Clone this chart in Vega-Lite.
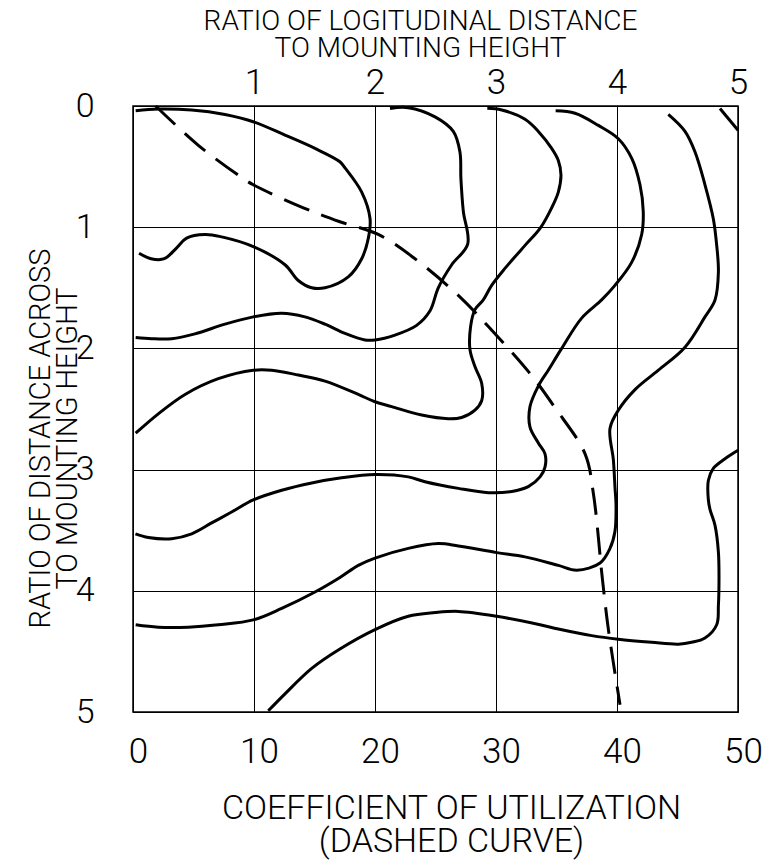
{
  "$schema": "https://vega.github.io/schema/vega-lite/v6.json",
  "width": 605,
  "height": 606,
  "autosize": "none",
  "padding": {"left": 133, "top": 106, "right": 45, "bottom": 149},
  "background": "white",
  "config": {
    "font": "Roboto",
    "view": {"stroke": "black", "strokeWidth": 1.5},
    "axis": {
      "labelFont": "Roboto", "titleFont": "Roboto",
      "labelFontWeight": 300, "titleFontWeight": 300,
      "labelColor": "black", "titleColor": "black",
      "ticks": false, "tickSize": 0, "domain": false,
      "gridColor": "black", "gridWidth": 1, "gridOpacity": 1,
      "labelFlush": false, "labelOverlap": false
    }
  },
  "data": {"values": [
    {"c":"A","i":0,"x":0.22,"y":0.04},{"c":"A","i":1,"x":2.09,"y":0.025},{"c":"A","i":2,"x":4.85,"y":0.033},{"c":"A","i":3,"x":7.6,"y":0.07},{"c":"A","i":4,"x":9.94,"y":0.13},{"c":"A","i":5,"x":12.56,"y":0.24},{"c":"A","i":6,"x":15.04,"y":0.35},{"c":"A","i":7,"x":17.1,"y":0.46},{"c":"A","i":8,"x":17.52,"y":0.51},{"c":"A","i":9,"x":18.9,"y":0.71},{"c":"A","i":10,"x":19.59,"y":0.93},{"c":"A","i":11,"x":19.45,"y":1.09},{"c":"A","i":12,"x":18.9,"y":1.26},{"c":"A","i":13,"x":17.79,"y":1.41},{"c":"A","i":14,"x":15.87,"y":1.5},{"c":"A","i":15,"x":14.77,"y":1.5},{"c":"A","i":16,"x":13.66,"y":1.44},{"c":"A","i":17,"x":12.56,"y":1.31},{"c":"A","i":18,"x":9.94,"y":1.16},{"c":"A","i":19,"x":7.33,"y":1.08},{"c":"A","i":20,"x":5.95,"y":1.06},{"c":"A","i":21,"x":4.43,"y":1.09},{"c":"A","i":22,"x":3.61,"y":1.17},{"c":"A","i":23,"x":2.59,"y":1.26},{"c":"A","i":24,"x":1.49,"y":1.26},{"c":"A","i":25,"x":0.5,"y":1.215},

    {"c":"C","i":0,"x":0.22,"y":1.91},{"c":"C","i":1,"x":1.54,"y":1.92},{"c":"C","i":2,"x":3.2,"y":1.92},{"c":"C","i":3,"x":5.12,"y":1.88},{"c":"C","i":4,"x":7.6,"y":1.8},{"c":"C","i":5,"x":9.94,"y":1.74},{"c":"C","i":6,"x":12.29,"y":1.71},{"c":"C","i":7,"x":14.21,"y":1.74},{"c":"C","i":8,"x":15.87,"y":1.8},{"c":"C","i":9,"x":17.52,"y":1.876},{"c":"C","i":10,"x":19.17,"y":1.93},{"c":"C","i":11,"x":20,"y":1.93},{"c":"C","i":12,"x":21.65,"y":1.89},{"c":"C","i":13,"x":23.44,"y":1.81},{"c":"C","i":14,"x":24.55,"y":1.69},{"c":"C","i":15,"x":25.23,"y":1.5},{"c":"C","i":16,"x":26.34,"y":1.31},{"c":"C","i":17,"x":27.66,"y":1.14},{"c":"C","i":18,"x":27.3,"y":0.87},{"c":"C","i":19,"x":27.1,"y":0.6},{"c":"C","i":20,"x":27.02,"y":0.38},{"c":"C","i":21,"x":26.47,"y":0.21},{"c":"C","i":22,"x":24.96,"y":0.09},{"c":"C","i":23,"x":22.75,"y":0.014},{"c":"C","i":24,"x":21.24,"y":0.02},

    {"c":"D","i":0,"x":0.22,"y":2.7},{"c":"D","i":1,"x":2.09,"y":2.54},{"c":"D","i":2,"x":4.3,"y":2.38},{"c":"D","i":3,"x":7.05,"y":2.25},{"c":"D","i":4,"x":9.94,"y":2.18},{"c":"D","i":5,"x":11.46,"y":2.18},{"c":"D","i":6,"x":13.66,"y":2.22},{"c":"D","i":7,"x":15.87,"y":2.27},{"c":"D","i":8,"x":18.62,"y":2.38},{"c":"D","i":9,"x":20,"y":2.44},{"c":"D","i":10,"x":21.38,"y":2.48},{"c":"D","i":11,"x":23.86,"y":2.55},{"c":"D","i":12,"x":26.06,"y":2.58},{"c":"D","i":13,"x":27.16,"y":2.57},{"c":"D","i":14,"x":28.26,"y":2.51},{"c":"D","i":15,"x":28.82,"y":2.43},{"c":"D","i":16,"x":28.82,"y":2.29},{"c":"D","i":17,"x":28.26,"y":2.15},{"c":"D","i":18,"x":27.85,"y":2.01},{"c":"D","i":19,"x":27.9,"y":1.82},{"c":"D","i":20,"x":28.26,"y":1.68},{"c":"D","i":21,"x":28.95,"y":1.6},{"c":"D","i":22,"x":29.64,"y":1.48},{"c":"D","i":23,"x":30.74,"y":1.34},{"c":"D","i":24,"x":32.4,"y":1.15},{"c":"D","i":25,"x":33.64,"y":1.01},{"c":"D","i":26,"x":34.6,"y":0.84},{"c":"D","i":27,"x":35.15,"y":0.71},{"c":"D","i":28,"x":35.37,"y":0.57},{"c":"D","i":29,"x":35.15,"y":0.45},{"c":"D","i":30,"x":34.6,"y":0.35},{"c":"D","i":31,"x":33.5,"y":0.21},{"c":"D","i":32,"x":32.4,"y":0.11},{"c":"D","i":33,"x":30.47,"y":0.033},{"c":"D","i":34,"x":29.28,"y":0.019},

    {"c":"E","i":0,"x":0.2,"y":3.53},{"c":"E","i":1,"x":1.27,"y":3.56},{"c":"E","i":2,"x":3.2,"y":3.57},{"c":"E","i":3,"x":4.85,"y":3.53},{"c":"E","i":4,"x":6.5,"y":3.44},{"c":"E","i":5,"x":8.15,"y":3.35},{"c":"E","i":6,"x":9.94,"y":3.25},{"c":"E","i":7,"x":12.29,"y":3.17},{"c":"E","i":8,"x":14.77,"y":3.11},{"c":"E","i":9,"x":17.1,"y":3.07},{"c":"E","i":10,"x":20,"y":3.04},{"c":"E","i":11,"x":22.75,"y":3.06},{"c":"E","i":12,"x":24.13,"y":3.1},{"c":"E","i":13,"x":26.89,"y":3.155},{"c":"E","i":14,"x":29.37,"y":3.19},{"c":"E","i":15,"x":31.3,"y":3.18},{"c":"E","i":16,"x":32.67,"y":3.14},{"c":"E","i":17,"x":33.64,"y":3.06},{"c":"E","i":18,"x":34.05,"y":2.98},{"c":"E","i":19,"x":34.05,"y":2.87},{"c":"E","i":20,"x":33.5,"y":2.78},{"c":"E","i":21,"x":32.81,"y":2.65},{"c":"E","i":22,"x":32.81,"y":2.48},{"c":"E","i":23,"x":33.5,"y":2.31},{"c":"E","i":24,"x":34.32,"y":2.18},{"c":"E","i":25,"x":35.43,"y":2.0},{"c":"E","i":26,"x":37.08,"y":1.75},{"c":"E","i":27,"x":38.73,"y":1.6},{"c":"E","i":28,"x":39.83,"y":1.48},{"c":"E","i":29,"x":41.21,"y":1.29},{"c":"E","i":30,"x":42.04,"y":1.06},{"c":"E","i":31,"x":42.17,"y":0.87},{"c":"E","i":32,"x":41.9,"y":0.65},{"c":"E","i":33,"x":41.21,"y":0.43},{"c":"E","i":34,"x":40.11,"y":0.27},{"c":"E","i":35,"x":38.46,"y":0.16},{"c":"E","i":36,"x":36.53,"y":0.06},{"c":"E","i":37,"x":34.93,"y":0.04},

    {"c":"F","i":0,"x":0.22,"y":4.28},{"c":"F","i":1,"x":2.09,"y":4.3},{"c":"F","i":2,"x":4.57,"y":4.3},{"c":"F","i":3,"x":7.05,"y":4.28},{"c":"F","i":4,"x":9.94,"y":4.24},{"c":"F","i":5,"x":12.29,"y":4.145},{"c":"F","i":6,"x":15.04,"y":4.01},{"c":"F","i":7,"x":17.1,"y":3.89},{"c":"F","i":8,"x":18.62,"y":3.79},{"c":"F","i":9,"x":20,"y":3.73},{"c":"F","i":10,"x":22.75,"y":3.65},{"c":"F","i":11,"x":25.23,"y":3.61},{"c":"F","i":12,"x":26.89,"y":3.63},{"c":"F","i":13,"x":30.06,"y":3.685},{"c":"F","i":14,"x":32.4,"y":3.72},{"c":"F","i":15,"x":35.15,"y":3.79},{"c":"F","i":16,"x":36.67,"y":3.83},{"c":"F","i":17,"x":38.6,"y":3.77},{"c":"F","i":18,"x":39.42,"y":3.65},{"c":"F","i":19,"x":39.83,"y":3.51},{"c":"F","i":20,"x":39.92,"y":3.3},{"c":"F","i":21,"x":39.83,"y":3.14},{"c":"F","i":22,"x":39.7,"y":2.92},{"c":"F","i":23,"x":39.42,"y":2.66},{"c":"F","i":24,"x":40.11,"y":2.51},{"c":"F","i":25,"x":41.49,"y":2.34},{"c":"F","i":26,"x":43.42,"y":2.18},{"c":"F","i":27,"x":45.62,"y":1.99},{"c":"F","i":28,"x":47.27,"y":1.74},{"c":"F","i":29,"x":48.1,"y":1.6},{"c":"F","i":30,"x":48.38,"y":1.37},{"c":"F","i":31,"x":48.24,"y":1.15},{"c":"F","i":32,"x":47.96,"y":0.93},{"c":"F","i":33,"x":47.27,"y":0.65},{"c":"F","i":34,"x":46.45,"y":0.38},{"c":"F","i":35,"x":45.62,"y":0.21},{"c":"F","i":36,"x":44.24,"y":0.07},

    {"c":"G","i":0,"x":48.51,"y":0.02},{"c":"G","i":1,"x":50,"y":0.2},

    {"c":"H","i":0,"x":11.18,"y":4.99},{"c":"H","i":1,"x":12.56,"y":4.85},{"c":"H","i":2,"x":14.77,"y":4.64},{"c":"H","i":3,"x":17.1,"y":4.48},{"c":"H","i":4,"x":20,"y":4.32},{"c":"H","i":5,"x":22.75,"y":4.21},{"c":"H","i":6,"x":24.96,"y":4.18},{"c":"H","i":7,"x":26.89,"y":4.17},{"c":"H","i":8,"x":30.06,"y":4.21},{"c":"H","i":9,"x":33.64,"y":4.28},{"c":"H","i":10,"x":35.15,"y":4.315},{"c":"H","i":11,"x":37.91,"y":4.37},{"c":"H","i":12,"x":40.11,"y":4.4},{"c":"H","i":13,"x":42.87,"y":4.425},{"c":"H","i":14,"x":45.07,"y":4.44},{"c":"H","i":15,"x":46.17,"y":4.425},{"c":"H","i":16,"x":47.27,"y":4.39},{"c":"H","i":17,"x":48.24,"y":4.28},{"c":"H","i":18,"x":48.38,"y":4.12},{"c":"H","i":19,"x":48.43,"y":3.9},{"c":"H","i":20,"x":48.38,"y":3.68},{"c":"H","i":21,"x":48.1,"y":3.46},{"c":"H","i":22,"x":47.69,"y":3.33},{"c":"H","i":23,"x":47.55,"y":3.25},{"c":"H","i":24,"x":47.55,"y":3.09},{"c":"H","i":25,"x":47.96,"y":2.99},{"c":"H","i":26,"x":48.93,"y":2.91},{"c":"H","i":27,"x":50,"y":2.84},

    {"c":"dash","i":0,"x":1.87,"y":0.0},{"c":"dash","i":1,"x":5.35,"y":0.32},{"c":"dash","i":2,"x":8.84,"y":0.58},{"c":"dash","i":3,"x":9.94,"y":0.65},{"c":"dash","i":4,"x":14.08,"y":0.84},{"c":"dash","i":5,"x":17.1,"y":0.955},{"c":"dash","i":6,"x":20.27,"y":1.06},{"c":"dash","i":7,"x":23.17,"y":1.25},{"c":"dash","i":8,"x":26.97,"y":1.57},{"c":"dash","i":9,"x":29.37,"y":1.82},{"c":"dash","i":10,"x":32.75,"y":2.2},{"c":"dash","i":11,"x":34.88,"y":2.49},{"c":"dash","i":12,"x":37.36,"y":2.87},{"c":"dash","i":13,"x":38.05,"y":3.2},{"c":"dash","i":14,"x":38.79,"y":3.9},{"c":"dash","i":15,"x":39.29,"y":4.32},{"c":"dash","i":16,"x":40.25,"y":4.94}
  ]},
  "layer": [
    {
      "transform": [{"filter": "datum.c != 'dash'"}],
      "mark": {"type": "line", "interpolate": "catmull-rom", "color": "black", "strokeWidth": 3},
      "encoding": {
        "x": {"field": "x", "type": "quantitative",
          "scale": {"domain": [0, 50], "nice": false, "zero": false},
          "axis": {"orient": "bottom", "values": [0, 10, 20, 30, 40, 50], "grid": true, "format": "d",
            "labelFontSize": 35, "labelBaseline": "alphabetic", "labelPadding": 50, "labelOffset": 5,
            "title": ["COEFFICIENT OF UTILIZATION", "(DASHED CURVE)"],
            "titleFontSize": 34, "titleX": 318, "titleY": 106, "titleAlign": "center",
            "titleBaseline": "alphabetic", "titleLineHeight": 33, "titleAngle": 0}},
        "y": {"field": "y", "type": "quantitative",
          "scale": {"domain": [0, 5], "nice": false, "zero": false, "reverse": true},
          "axis": {"orient": "left", "values": [0, 1, 2, 3, 4, 5], "grid": true, "format": "d",
            "labelFontSize": 34, "labelPadding": 39, "labelBaseline": "middle",
            "title": ["RATIO OF DISTANCE ACROSS", "TO MOUNTING HEIGHT"],
            "titleFontSize": 29, "titleX": -84, "titleY": 332, "titleAlign": "center",
            "titleBaseline": "alphabetic", "titleLineHeight": 27, "titleAngle": 270}},
        "detail": {"field": "c"},
        "order": {"field": "i", "type": "quantitative"}
      }
    },
    {
      "transform": [{"filter": "datum.c == 'dash'"}],
      "mark": {"type": "line", "interpolate": "catmull-rom", "color": "black", "strokeWidth": 3, "strokeDash": [27, 13]},
      "encoding": {
        "x": {"field": "x", "type": "quantitative",
          "axis": {"orient": "top", "values": [10, 20, 30, 40, 50], "grid": false,
            "labelExpr": "datum.value / 10",
            "labelFontSize": 35, "labelBaseline": "alphabetic", "labelPadding": 13,
            "title": ["RATIO OF LOGITUDINAL DISTANCE", "TO MOUNTING HEIGHT"],
            "titleFontSize": 28, "titleX": 287, "titleY": -77, "titleAlign": "center",
            "titleBaseline": "alphabetic", "titleLineHeight": 27, "titleAngle": 0}},
        "y": {"field": "y", "type": "quantitative"},
        "order": {"field": "i", "type": "quantitative"}
      }
    }
  ],
  "resolve": {"axis": {"x": "independent"}}
}
